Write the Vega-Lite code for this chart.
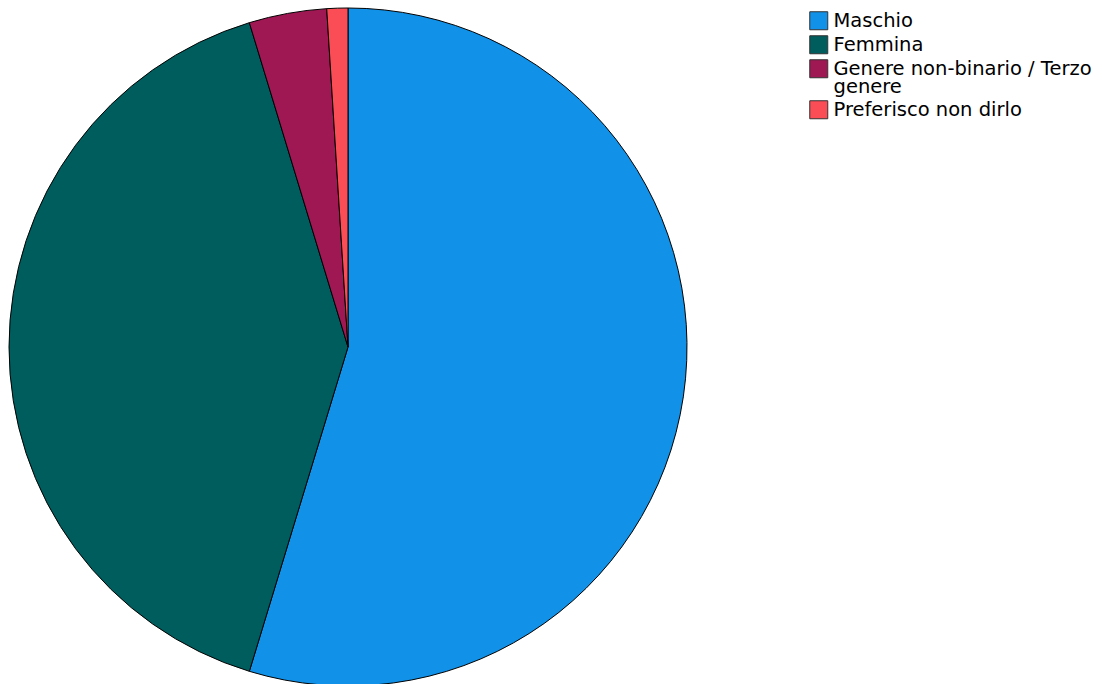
{
  "$schema": "https://vega.github.io/schema/vega-lite/v6.json",
  "width": 696,
  "height": 694,
  "autosize": {"type": "pad"},
  "padding": 0,
  "background": "white",
  "data": {
    "values": [
      {"genere": "Maschio", "percentuale": 54.7, "ordine": 1},
      {"genere": "Femmina", "percentuale": 40.6, "ordine": 2},
      {"genere": "Genere non-binario / Terzo genere", "percentuale": 3.7, "ordine": 3},
      {"genere": "Preferisco non dirlo", "percentuale": 1.0, "ordine": 4}
    ]
  },
  "mark": {"type": "arc", "outerRadius": 339, "stroke": "black", "strokeWidth": 1},
  "encoding": {
    "theta": {"field": "percentuale", "type": "quantitative", "stack": true},
    "order": {"field": "ordine", "type": "quantitative"},
    "color": {
      "field": "genere",
      "type": "nominal",
      "sort": ["Maschio", "Femmina", "Genere non-binario / Terzo genere", "Preferisco non dirlo"],
      "scale": {
        "domain": ["Maschio", "Femmina", "Genere non-binario / Terzo genere", "Preferisco non dirlo"],
        "range": ["#1192e8", "#005d5d", "#9f1853", "#fa4d56"]
      },
      "legend": {
        "title": null,
        "orient": "none",
        "legendX": 809,
        "legendY": 11,
        "symbolType": "square",
        "symbolSize": 324,
        "symbolStrokeColor": "#333",
        "symbolStrokeWidth": 1,
        "symbolOpacity": 1,
        "labelFont": "DejaVu Sans",
        "labelFontSize": 19.5,
        "labelColor": "black",
        "labelOffset": 5,
        "labelLimit": 400,
        "rowPadding": 1,
        "encode": {"labels": {"update": {"lineHeight": {"value": 18}}}},
        "labelExpr": "datum.label == 'Genere non-binario / Terzo genere' ? ['Genere non-binario / Terzo', 'genere'] : datum.label"
      }
    }
  }
}
